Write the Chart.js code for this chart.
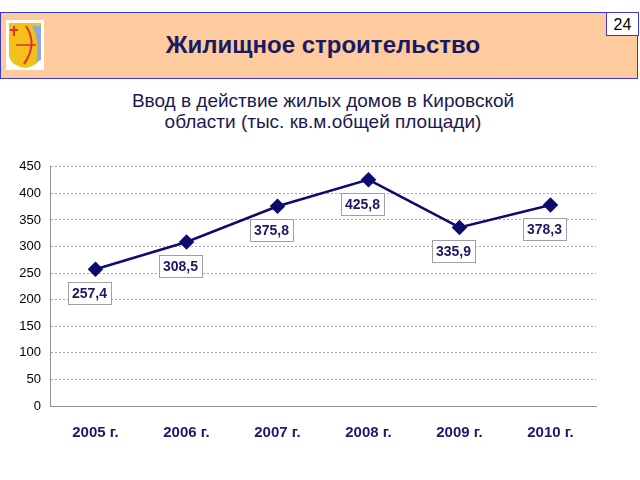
<!DOCTYPE html>
<html>
<head>
<meta charset="utf-8">
<script src="https://cdn.jsdelivr.net/npm/chart.js@4"></script>
<style>
  body { margin: 0; width: 640px; height: 480px; background: #fff; position: relative; overflow: hidden; font-family: Arial, "Liberation Sans", sans-serif; }
  .header { position: absolute; left: 0; top: 12px; width: 636px; height: 65px; background: #fdcb9e; border: 1px solid #3a3ad0; }
  .header h1 { margin: 0; position: absolute; left: 8px; right: 0; top: 18px; text-align: center; font-size: 24px; font-weight: bold; color: #1a1a60; }
  .page { position: absolute; left: 606px; top: 12px; width: 33px; height: 24px; background: #fff; border: 1px solid #3a3ad0; font-size: 16px; color: #000; line-height: 24px; text-align: center; box-sizing: border-box; }
  .logo { position: absolute; left: 5px; top: 7px; }
  .subtitle { position: absolute; left: 0; width: 646px; top: 90px; text-align: center; font-size: 19px; line-height: 21px; color: #1a1a50; }
  #wrap { position: absolute; left: 0; top: 150px; width: 640px; height: 300px; }
</style>
</head>
<body>
<div class="header">
  <svg class="logo" width="38" height="50" viewBox="0 0 38 50">
    <rect x="0" y="0" width="38" height="50" fill="#fff"/>
    <path d="M3 3 H35 V34 Q35 45 19 48 Q3 45 3 34 Z" fill="#f2c21a"/>
    <path d="M26 6 Q34 20 30 42 L35 40 V6 Z" fill="#8fa8d8"/>
    <path d="M20 6 Q32 24 18 44" stroke="#d33" stroke-width="2" fill="none"/>
    <line x1="10" y1="25" x2="30" y2="25" stroke="#d33" stroke-width="1.5"/>
    <path d="M8 6 V16 M4 10 H12" stroke="#d33" stroke-width="2"/>
  </svg>
  <h1>Жилищное строительство</h1>
</div>
<div class="page">24</div>
<div class="subtitle">Ввод в действие жилых домов в Кировской<br>области (тыс. кв.м.общей площади)</div>
<div id="wrap"><canvas id="chart" width="640" height="300"></canvas></div>
<script>
const years = ['2005 г.', '2006 г.', '2007 г.', '2008 г.', '2009 г.', '2010 г.'];
const housing = [257.4, 308.5, 375.8, 425.8, 335.9, 378.3];
const yMin = 0, yMax = 450, yStep = 50;

const navy = '#0c0c6e';

// boxed value labels under each point
const boxLabels = {
  id: 'boxLabels',
  afterDatasetsDraw(chart) {
    const ctx = chart.ctx;
    const meta = chart.getDatasetMeta(0);
    ctx.save();
    ctx.font = 'bold 14px Arial, "Liberation Sans", sans-serif';
    ctx.textAlign = 'center';
    ctx.textBaseline = 'middle';
    meta.data.forEach((pt, i) => {
      const txt = housing[i].toFixed(1).replace('.', ',');
      const w = ctx.measureText(txt).width + 8;
      const h = 22;
      const cx = pt.x - 6, cy = pt.y + 24;
      ctx.fillStyle = '#fff';
      ctx.fillRect(cx - w / 2, cy - h / 2, w, h);
      ctx.strokeStyle = '#a0a0a0';
      ctx.lineWidth = 1;
      ctx.strokeRect(Math.round(cx - w / 2) + 0.5, Math.round(cy - h / 2) + 0.5, Math.round(w), h);
      ctx.fillStyle = '#1a1a60';
      ctx.fillText(txt, cx, cy + 1);
    });
    ctx.restore();
  }
};

new Chart(document.getElementById('chart'), {
  type: 'line',
  data: {
    labels: years,
    datasets: [{
      data: housing,
      borderColor: navy,
      backgroundColor: navy,
      borderWidth: 2.5,
      pointStyle: 'rectRot',
      pointRadius: 6,
      pointHoverRadius: 6,
      tension: 0
    }]
  },
  options: {
    responsive: false,
    animation: false,
    events: [],
    layout: { padding: { top: 15, right: 44, left: 0, bottom: 0 } },
    plugins: { legend: { display: false }, tooltip: { enabled: false } },
    scales: {
      x: {
        offset: true,
        grid: { display: false, drawTicks: false },
        border: { color: '#909090', width: 1 },
        ticks: { padding: 18, color: '#1a1a6e', font: { size: 15, weight: 'bold', family: 'Arial' } },
        afterFit(s) { s.height = 44; }
      },
      y: {
        min: yMin, max: yMax,
        ticks: { stepSize: yStep, padding: 9, color: '#000', font: { size: 13, family: 'Arial' } },
        grid: { color: '#a8a8a8', drawTicks: false },
        border: { color: '#909090', width: 1, dash: [2, 2] },
        afterFit(s) { s.width = 50; }
      }
    }
  },
  plugins: [boxLabels]
});
</script>
</body>
</html>
